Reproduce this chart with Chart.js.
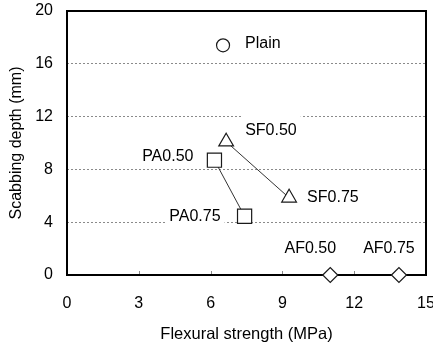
<!DOCTYPE html>
<html>
<head>
<meta charset="utf-8">
<script src="https://cdn.jsdelivr.net/npm/chart.js@4/dist/chart.umd.min.js"></script>
<style>
html,body{margin:0;padding:0;background:#fff;}
#c{display:block;}
</style>
</head>
<body>
<canvas id="c" width="433" height="344"></canvas>
<script>
// ---- data ----
const plainX = [6.52];
const plainY = [17.4];
const sfX = [6.65, 9.28];
const sfY = [10.1, 5.85];
const paX = [6.16, 7.42];
const paY = [8.7, 4.45];
const afX = [11.0, 13.87];
const afY = [0, 0];
const xTicks = [0, 3, 6, 9, 12, 15];
const yTicks = [0, 4, 8, 12, 16, 20];
const pointNames = ['Plain', 'SF0.50', 'SF0.75', 'PA0.50', 'PA0.75', 'AF0.50', 'AF0.75'];
const xTitle = 'Flexural strength (MPa)';
const yTitle = 'Scabbing depth (mm)';

// label anchors: [dataset index, point index, dx, dy, align]
const labelAnchors = [
  [0, 0, 22, -2, 'left'],
  [1, 0, 19, -11, 'left'],
  [1, 1, 18, 0, 'left'],
  [2, 0, -21, -4, 'right'],
  [2, 1, -24, 0, 'right'],
  [3, 0, -20, -26, 'center'],
  [3, 1, -10, -26, 'center']
];

const FONT = 'Arial, "Liberation Sans", sans-serif';
const toPts = (xs, ys) => xs.map((x, i) => ({x: x, y: ys[i]}));

const common = {
  backgroundColor: '#ffffff',
  borderColor: '#000000',
  pointBackgroundColor: '#ffffff',
  pointBorderColor: '#1a1a1a',
  pointBorderWidth: 1.2,
  pointHoverRadius: 0,
  clip: false
};

const labelPlugin = {
  id: 'decor',
  beforeDatasetsDraw(chart) {
    const ctx = chart.ctx;
    const a = chart.chartArea;
    const xs = chart.scales.x;
    ctx.save();
    ctx.strokeStyle = '#888888';
    ctx.lineWidth = 1;
    xTicks.forEach(v => {
      if (v === xTicks[0] || v === xTicks[xTicks.length - 1]) return;
      const px = Math.round(xs.getPixelForValue(v)) + 0.5;
      ctx.beginPath();
      ctx.moveTo(px, a.bottom);
      ctx.lineTo(px, a.bottom - 4);
      ctx.stroke();
    });
    ctx.font = '16px ' + FONT;
    ctx.textBaseline = 'middle';
    labelAnchors.forEach((l, k) => {
      const el = chart.getDatasetMeta(l[0]).data[l[1]];
      const tx = el.x + l[2];
      const ty = el.y + l[3];
      const w = ctx.measureText(pointNames[k]).width;
      let left = tx;
      if (l[4] === 'right') left = tx - w;
      if (l[4] === 'center') left = tx - w / 2;
      ctx.fillStyle = '#ffffff';
      ctx.fillRect(left - 4, ty - 15, w + 8, 24);
      ctx.fillStyle = '#000000';
      ctx.textAlign = 'left';
      ctx.fillText(pointNames[k], left, ty);
    });
    ctx.strokeStyle = '#000000';
    ctx.lineWidth = 2;
    ctx.strokeRect(a.left, a.top, a.right - a.left, a.bottom - a.top);
    ctx.restore();
  }
};

new Chart(document.getElementById('c'), {
  type: 'scatter',
  data: {
    datasets: [
      Object.assign({}, common, {
        label: 'Plain', data: toPts(plainX, plainY),
        pointStyle: 'circle', pointRadius: 6.5, showLine: false
      }),
      Object.assign({}, common, {
        label: 'SF', data: toPts(sfX, sfY),
        pointStyle: 'triangle', pointRadius: 8.5, showLine: true,
        borderColor: '#333333', borderWidth: 1
      }),
      Object.assign({}, common, {
        label: 'PA', data: toPts(paX, paY),
        pointStyle: 'rect', pointRadius: 10, showLine: true,
        borderColor: '#333333', borderWidth: 1
      }),
      Object.assign({}, common, {
        label: 'AF', data: toPts(afX, afY),
        pointStyle: 'rectRot', pointRadius: 7.5, showLine: false
      })
    ]
  },
  options: {
    responsive: false,
    animation: false,
    devicePixelRatio: 1,
    layout: {autoPadding: false, padding: {left: 0, right: 7, top: 11, bottom: 0}},
    plugins: {
      legend: {display: false},
      tooltip: {enabled: false}
    },
    scales: {
      x: {
        type: 'linear',
        min: xTicks[0], max: xTicks[xTicks.length - 1],
        afterBuildTicks(s) { s.ticks = xTicks.map(v => ({value: v})); },
        ticks: {font: {size: 16, family: FONT}, color: '#000', padding: 19},
        grid: {display: false, drawTicks: false},
        border: {display: false},
        title: {display: true, text: xTitle, color: '#000',
                font: {size: 16.5, family: FONT}, padding: {top: 0, bottom: 0}},
        afterFit(s) { s.paddingLeft = 0; s.paddingRight = 0; s.height = 69; }
      },
      y: {
        type: 'linear',
        min: yTicks[0], max: yTicks[yTicks.length - 1],
        afterBuildTicks(s) { s.ticks = yTicks.map(v => ({value: v})); },
        ticks: {font: {size: 16, family: FONT}, color: '#000', padding: 14},
        grid: {
          drawTicks: false,
          lineWidth: 1,
          color: c => (c.tick && (c.tick.value === yTicks[0] || c.tick.value === yTicks[yTicks.length - 1])) ? 'rgba(0,0,0,0)' : '#8a8a8a'
        },
        border: {display: false, dash: [2, 2]},
        title: {display: true, text: yTitle, color: '#000',
                font: {size: 16, family: FONT}, padding: {top: 7, bottom: 0}},
        afterFit(s) { s.width = 67; s.paddingTop = 0; s.paddingBottom = 0; }
      }
    }
  },
  plugins: [labelPlugin]
});
</script>
</body>
</html>
